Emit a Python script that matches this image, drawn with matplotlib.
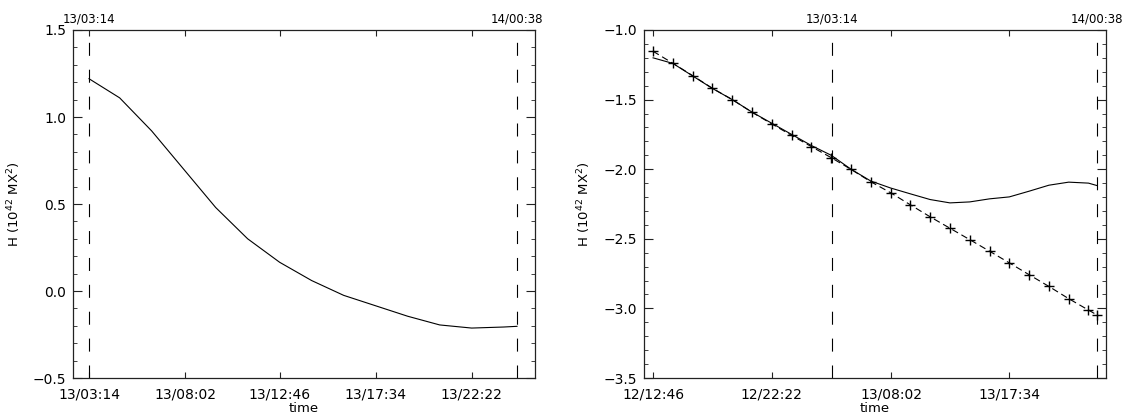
import matplotlib
matplotlib.use('Agg')
import matplotlib.pyplot as plt
from matplotlib.ticker import MultipleLocator

# helicity time series, times as DD/HH:MM
left_times = ['13/03:14', '13/04:46', '13/06:22', '13/07:58', '13/09:34', '13/11:10',
              '13/12:46', '13/14:22', '13/15:58', '13/17:34', '13/19:10', '13/20:46',
              '13/22:22', '13/23:58', '14/00:38']
left_h = [1.22, 1.11, 0.92, 0.70, 0.48, 0.30, 0.165, 0.06, -0.025, -0.085, -0.145,
          -0.195, -0.213, -0.207, -0.203]

right_times = ['12/12:46', '12/14:22', '12/15:58', '12/17:34', '12/19:10', '12/20:46',
               '12/22:22', '12/23:58', '13/01:34', '13/03:10', '13/04:46', '13/06:22',
               '13/07:58', '13/09:34', '13/11:10', '13/12:46', '13/14:22', '13/15:58',
               '13/17:34', '13/19:10', '13/20:46', '13/22:22', '13/23:58', '14/00:38']
right_h_fit = [-1.153, -1.239, -1.328, -1.419, -1.500, -1.591, -1.675, -1.757,
               -1.838, -1.917, -2.001, -2.090, -2.169, -2.256, -2.342, -2.424,
               -2.506, -2.589, -2.673, -2.758, -2.842, -2.930, -3.012, -3.046]
right_h = [-1.20, -1.24, -1.33, -1.42, -1.50, -1.59, -1.67, -1.75, -1.83, -1.90,
           -2.00, -2.085, -2.135, -2.177, -2.218, -2.242, -2.235, -2.213, -2.199,
           -2.158, -2.115, -2.093, -2.10, -2.117]

left_ticks = ['13/03:14', '13/08:02', '13/12:46', '13/17:34', '13/22:22']
right_ticks = ['12/12:46', '12/22:22', '13/08:02', '13/17:34']
event_marks = ['13/03:14', '14/00:38']


def minutes(stamp):
    day, hm = stamp.split('/')
    h, m = hm.split(':')
    return (int(day) - 13) * 1440 + int(h) * 60 + int(m)


plt.rcParams['font.family'] = 'DejaVu Sans'

fig = plt.figure(figsize=(11.22, 4.18), dpi=100)
ax1 = fig.add_axes([0.06506, 0.09569, 0.41176, 0.83254])
ax2 = fig.add_axes([0.57398, 0.09569, 0.41176, 0.83254])

ax1.plot([minutes(t) for t in left_times], left_h, color='k', lw=0.8)

ax2.plot([minutes(t) for t in right_times], right_h, color='k', lw=0.8)
ax2.plot([minutes(t) for t in right_times], right_h_fit, color='k', lw=0.8,
         dashes=(6, 3.5), marker='+', ms=6.5, mew=1.0)

ax1.set_xlim(146, 1532)
ax1.set_ylim(-0.5, 1.5)
ax2.set_xlim(-718, 1523)
ax2.set_ylim(-3.5, -1.0)

for ax, ticks in ((ax1, left_ticks), (ax2, right_ticks)):
    ax.set_xticks([minutes(t) for t in ticks])
    ax.set_xticklabels(ticks)
    ax.yaxis.set_major_locator(MultipleLocator(0.5))
    ax.yaxis.set_minor_locator(MultipleLocator(0.1))
    ax.tick_params(axis='both', which='both', direction='in', top=True, right=True,
                   labelsize=10, color='#222222')
    ax.tick_params(axis='x', which='major', length=4.5, pad=7)
    ax.tick_params(axis='y', which='major', length=6.5, pad=5)
    ax.tick_params(axis='y', which='minor', length=3.2)
    for sp in ax.spines.values():
        sp.set_linewidth(0.9)
        sp.set_color('#222222')

    for t in event_marks:
        x = minutes(t)
        ax.axvline(x, color='k', lw=0.8, dashes=(11.7, 12.5))
        ax.text(x, 1.012, t, transform=ax.get_xaxis_transform(),
                ha='center', va='bottom', fontsize=8.5)

    ax.set_xlabel('time', fontsize=9.5, labelpad=0)
    ax.set_ylabel('H (10$^{42}$ MX$^{2}$)', fontsize=9.5)

ax1.yaxis.set_label_coords(-0.108, 0.5)
ax2.yaxis.set_label_coords(-0.110, 0.5)

fig.savefig('out.png', dpi=100)
